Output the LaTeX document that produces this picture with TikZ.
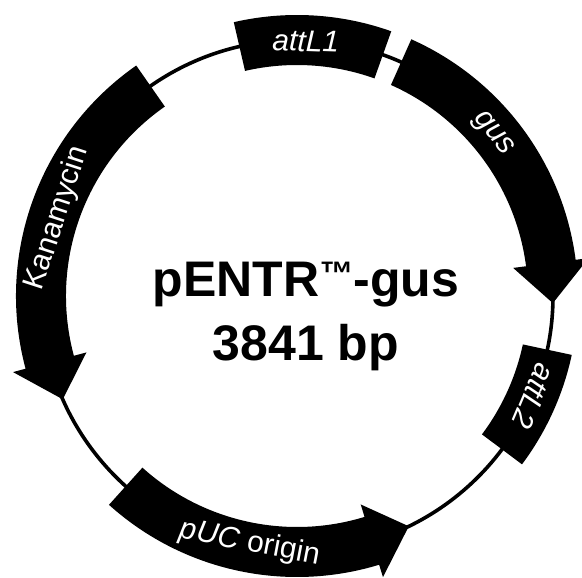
\documentclass[tikz,border=0pt]{standalone}
\usepackage{fontspec}
\newfontfamily\arialfont{Liberation Sans}
\newcommand{\smalltm}{\raisebox{11pt}{\fontsize{34}{34}\selectfont ™}}
\begin{document}
\begin{tikzpicture}[x=1pt,y=1pt,
		backbone/.style={line width=3.6pt},
		feature/.style={fill=black},
		featlabel/.style={text=white,inner sep=0pt,font=\arialfont\fontsize{30}{32}\selectfont},
		title/.style={inner sep=0pt,anchor=base,font=\arialfont\bfseries\fontsize{50}{60}\selectfont}]
		\useasboundingbox (-297,-282) rectangle (285,296);
		\draw [backbone] (0,0) circle (256);
		% attL1
		\fill [feature] (103:281) arc [start angle=103,end angle=70.4,radius=281] -- (70.4:231) arc [start angle=70.4,end angle=103,radius=231] -- cycle;
		% gus
		\fill [feature] (66:281) arc [start angle=66,end angle=7.4,radius=281] -- (7.4:294) -- (-1.6:256) -- (7.4:218) -- (7.4:231) arc [start angle=7.4,end angle=66,radius=231] -- cycle;
		% attL2
		\fill [feature] (-12.1:281) arc [start angle=-12.1,end angle=-36.8,radius=281] -- (-36.8:231) arc [start angle=-36.8,end angle=-12.1,radius=231] -- cycle;
		% pUC origin
		\fill [feature] (228:281) arc [start angle=228,end angle=287,radius=281] -- (287:294) -- (295.9:256) -- (287:218) -- (287:231) arc [start angle=287,end angle=228,radius=231] -- cycle;
		% Kanamycin
		\fill [feature] (124.9:281) arc [start angle=124.9,end angle=195,radius=281] -- (195:294) -- (203.8:256) -- (195:218) -- (195:231) arc [start angle=195,end angle=124.9,radius=231] -- cycle;
		\node [featlabel,rotate=-2] (attLone) at (88:255) {\itshape attL1};
		\node [featlabel,rotate=-50.5] (gus) at (39.5:254) {\itshape gus};
		\node [featlabel,rotate=-113] (attLtwo) at (-23:257) {\itshape attL2};
		\node [featlabel,rotate=-10.8] (puc) at (-100.8:252) {\itshape pUC\upshape{} origin};
		\node [featlabel,rotate=72] (kan) at (162:252) {Kanamycin};
		\node [title] (name) at (9,-1) {pENTR\smalltm-gus};
		\node [title] (size) at (9,-65) {3841 bp};
	\end{tikzpicture}
\end{document}
